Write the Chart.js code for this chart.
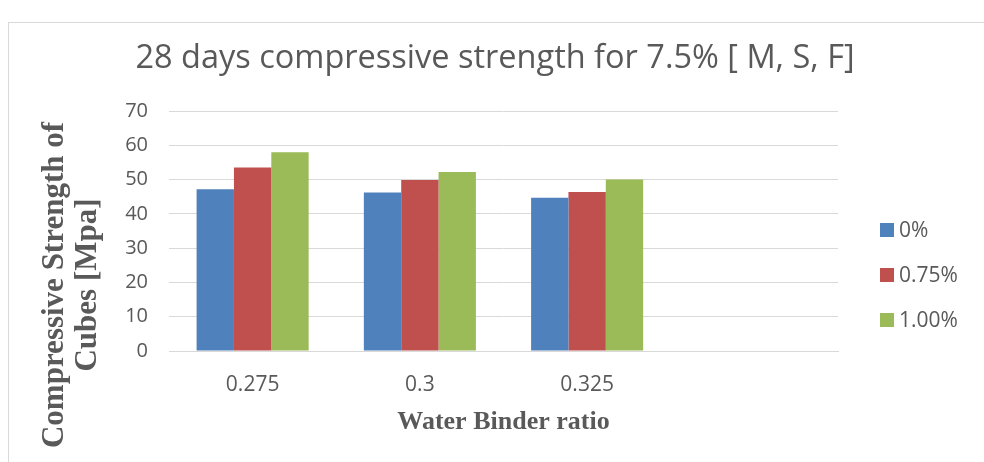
<!DOCTYPE html>
<html>
<head>
<meta charset="utf-8">
<script src="https://cdn.jsdelivr.net/npm/chart.js@4.4.1/dist/chart.umd.min.js"></script>
<style>
  html, body { margin: 0; padding: 0; background: #fff; }
  #frame { position: absolute; left: 8px; top: 22px; width: 1000px; height: 500px; border: 1px solid #d9d9d9; }
  #wrap { position: absolute; left: 0; top: 0; width: 984px; height: 462px; }
</style>
</head>
<body>
<div id="frame"></div>
<div id="wrap"><canvas id="chart"></canvas></div>
<script>
// data
const categories = ['0.275', '0.3', '0.325', ''];
const seriesNames = ['0%', '0.75%', '1.00%'];
const fiber0 = [47.2, 46.2, 44.7, null];
const fiber075 = [53.5, 49.9, 46.4, null];
const fiber100 = [58.0, 52.2, 50.0, null];
const colors = ['#4f81bd', '#c0504d', '#9bbb59'];
const chartTitle = '28 days compressive strength for 7.5% [ M, S, F]';

const textGray = '#595959';
const gridGray = '#d9d9d9';

// title centred on the whole chart frame, not on the plot
const topTitle = {
    id: 'topTitle',
    afterDraw(chart) {
        const ctx = chart.ctx;
        ctx.save();
        ctx.font = '32.5px "Open Sans"';
        ctx.fillStyle = textGray;
        ctx.textAlign = 'center';
        ctx.textBaseline = 'middle';
        ctx.fillText(chartTitle, 495, 59);
        ctx.restore();
    }
};

// legend on the right, drawn from the datasets
const sideLegend = {
    id: 'sideLegend',
    afterDraw(chart) {
        const ctx = chart.ctx;
        const x = chart.chartArea.right + 42;
        ctx.save();
        ctx.font = '21px "Open Sans"';
        ctx.textBaseline = 'middle';
        chart.data.datasets.forEach((ds, i) => {
            const y = 230 + i * 45;
            ctx.fillStyle = ds.backgroundColor;
            ctx.fillRect(x, y - 7, 14, 14);
            ctx.fillStyle = textGray;
            ctx.fillText(ds.label, x + 19, y + 1);
        });
        ctx.restore();
    }
};

// two-line rotated y title, sits lower than the plot centre like the original
const yTitle = {
    id: 'yTitle',
    afterDraw(chart) {
        const ctx = chart.ctx;
        const lines = ['Compressive Strength of', 'Cubes [Mpa]'];
        ctx.save();
        ctx.translate(0, 285);
        ctx.rotate(-Math.PI / 2);
        ctx.font = 'bold 31px "Liberation Serif"';
        ctx.fillStyle = textGray;
        ctx.textAlign = 'center';
        ctx.textBaseline = 'middle';
        lines.forEach((t, i) => ctx.fillText(t, 0, 55 + i * 33));
        ctx.restore();
    }
};

new Chart(document.getElementById('chart'), {
    type: 'bar',
    data: {
        labels: categories,
        datasets: [
            { label: seriesNames[0], data: fiber0, backgroundColor: colors[0] },
            { label: seriesNames[1], data: fiber075, backgroundColor: colors[1] },
            { label: seriesNames[2], data: fiber100, backgroundColor: colors[2] }
        ]
    },
    options: {
        responsive: true,
        maintainAspectRatio: false,
        animation: false,
        categoryPercentage: 0.67,
        barPercentage: 1.0,
        layout: { padding: { left: 0, right: 146, top: 111, bottom: 0 } },
        plugins: {
            legend: { display: false },
            tooltip: { enabled: false },
            title: { display: false }
        },
        scales: {
            x: {
                grid: { display: false, drawTicks: false },
                border: { color: gridGray, width: 1 },
                ticks: { color: textGray, font: { family: '"Open Sans"', size: 21 }, padding: 21 },
                title: {
                    display: true,
                    text: 'Water Binder ratio',
                    color: textGray,
                    font: { family: '"Liberation Serif"', size: 26, weight: 'bold', lineHeight: 1.2 },
                    padding: { top: 0, bottom: 24 }
                },
                afterFit(scale) { scale.height = 111; }
            },
            y: {
                min: 0,
                max: 70,
                ticks: { stepSize: 10, color: textGray, font: { family: '"Open Sans"', size: 20 }, padding: 21 },
                grid: { color: gridGray, lineWidth: 1, drawTicks: false },
                border: { display: false },
                afterFit(scale) { scale.width = 169; }
            }
        }
    },
    plugins: [topTitle, sideLegend, yTitle]
});
</script>
</body>
</html>
